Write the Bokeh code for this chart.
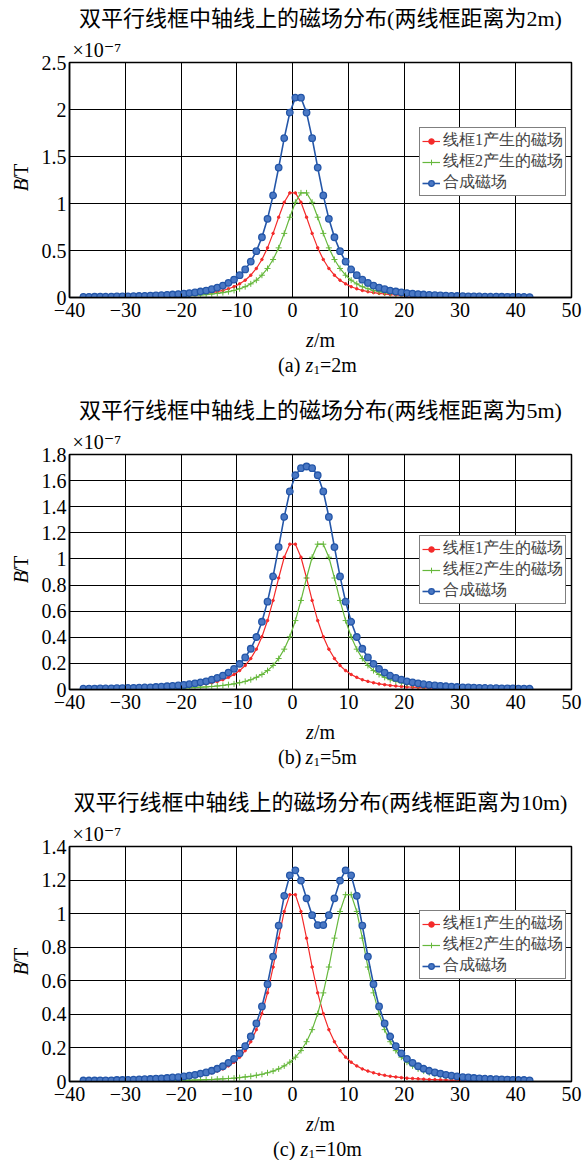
import math
from bokeh.plotting import figure
from bokeh.models import Range1d, FixedTicker, Label, Legend, LegendItem, PrintfTickFormatter
from bokeh.layouts import column, row
from bokeh.core.properties import value
from bokeh.embed import file_html
from bokeh.resources import INLINE

# ---------------- data (B in units of 1e-7 T) ----------------
z = [-37.5, -36.5, -35.5, -34.5, -33.5, -32.5, -31.5, -30.5, -29.5, -28.5,
     -27.5, -26.5, -25.5, -24.5, -23.5, -22.5, -21.5, -20.5, -19.5, -18.5,
     -17.5, -16.5, -15.5, -14.5, -13.5, -12.5, -11.5, -10.5, -9.5, -8.5,
     -7.5, -6.5, -5.5, -4.5, -3.5, -2.5, -1.5, -0.5, 0.5, 1.5,
     2.5, 3.5, 4.5, 5.5, 6.5, 7.5, 8.5, 9.5, 10.5, 11.5,
     12.5, 13.5, 14.5, 15.5, 16.5, 17.5, 18.5, 19.5, 20.5, 21.5,
     22.5, 23.5, 24.5, 25.5, 26.5, 27.5, 28.5, 29.5, 30.5, 31.5,
     32.5, 33.5, 34.5, 35.5, 36.5, 37.5, 38.5, 39.5, 40.5, 41.5, 42.5]

# loop 1 (centre z = 0), same in all three panels
red = [0.004, 0.004, 0.004, 0.005, 0.005, 0.005, 0.006, 0.006, 0.007, 0.008,
       0.009, 0.010, 0.011, 0.012, 0.014, 0.016, 0.018, 0.020, 0.023, 0.027,
       0.031, 0.037, 0.043, 0.052, 0.062, 0.075, 0.093, 0.115, 0.145, 0.184,
       0.237, 0.309, 0.404, 0.528, 0.682, 0.854, 1.013, 1.113,
       1.113, 1.013, 0.854, 0.682, 0.528, 0.404, 0.309, 0.237, 0.184, 0.145,
       0.115, 0.093, 0.075, 0.062, 0.052, 0.043, 0.037, 0.031, 0.027, 0.023,
       0.020, 0.018, 0.016, 0.014, 0.012, 0.011, 0.010, 0.009, 0.008, 0.007,
       0.006, 0.006, 0.005, 0.005, 0.005, 0.004, 0.004, 0.004, 0.003, 0.003,
       0.003, 0.003, 0.002]

# (a) distance 2 m
green_a = [0.003, 0.003, 0.004, 0.004, 0.004, 0.005, 0.005, 0.005, 0.006, 0.006,
           0.007, 0.008, 0.009, 0.010, 0.011, 0.012, 0.014, 0.016, 0.018, 0.020,
           0.023, 0.027, 0.031, 0.037, 0.043, 0.052, 0.062, 0.075, 0.093, 0.115,
           0.145, 0.184, 0.237, 0.309, 0.404, 0.528, 0.682, 0.854, 1.013, 1.113,
           1.113, 1.013, 0.854, 0.682, 0.528, 0.404, 0.309, 0.237, 0.184, 0.145,
           0.115, 0.093, 0.075, 0.062, 0.052, 0.043, 0.037, 0.031, 0.027, 0.023,
           0.020, 0.018, 0.016, 0.014, 0.012, 0.011, 0.010, 0.009, 0.008, 0.007,
           0.006, 0.006, 0.005, 0.005, 0.005, 0.004, 0.004, 0.004, 0.003, 0.003, 0.003]
blue_a = [0.007, 0.007, 0.008, 0.009, 0.009, 0.010, 0.011, 0.011, 0.013, 0.014,
          0.016, 0.018, 0.020, 0.022, 0.025, 0.028, 0.032, 0.036, 0.041, 0.047,
          0.054, 0.064, 0.074, 0.089, 0.105, 0.127, 0.155, 0.190, 0.238, 0.299,
          0.382, 0.493, 0.641, 0.837, 1.086, 1.382, 1.695, 1.967,
          2.126, 2.126,
          1.967, 1.695, 1.382, 1.086, 0.837, 0.641, 0.493, 0.382, 0.299, 0.238,
          0.190, 0.155, 0.127, 0.105, 0.089, 0.074, 0.064, 0.054, 0.047, 0.041,
          0.036, 0.032, 0.028, 0.025, 0.022, 0.020, 0.018, 0.016, 0.014, 0.013,
          0.011, 0.011, 0.010, 0.009, 0.009, 0.008, 0.007, 0.007, 0.006, 0.006, 0.005]

# (b) distance 5 m
green_b = [0.002, 0.003, 0.003, 0.003, 0.003,
           0.004, 0.004, 0.004, 0.005, 0.005, 0.005, 0.006, 0.006, 0.007, 0.008,
           0.009, 0.010, 0.011, 0.012, 0.014, 0.016, 0.018, 0.020, 0.023, 0.027,
           0.031, 0.037, 0.043, 0.052, 0.062, 0.075, 0.093, 0.115, 0.145, 0.184,
           0.237, 0.309, 0.404, 0.528, 0.682, 0.854, 1.013, 1.113,
           1.113, 1.013, 0.854, 0.682, 0.528, 0.404, 0.309, 0.237, 0.184, 0.145,
           0.115, 0.093, 0.075, 0.062, 0.052, 0.043, 0.037, 0.031, 0.027, 0.023,
           0.020, 0.018, 0.016, 0.014, 0.012, 0.011, 0.010, 0.009, 0.008, 0.007,
           0.006, 0.006, 0.005, 0.005, 0.005, 0.004, 0.004, 0.004]
blue_b = [0.006, 0.007, 0.007, 0.008, 0.008, 0.009, 0.010, 0.010, 0.012, 0.013,
          0.014, 0.016, 0.017, 0.019, 0.022, 0.025, 0.028, 0.031, 0.035, 0.041,
          0.047, 0.055, 0.063, 0.075, 0.089, 0.106, 0.130, 0.158, 0.197, 0.246,
          0.312, 0.402, 0.519, 0.673, 0.866, 1.091, 1.322, 1.517, 1.641, 1.695, 1.708,
          1.695, 1.641, 1.517, 1.322, 1.091, 0.866, 0.673, 0.519, 0.402, 0.312,
          0.246, 0.197, 0.158, 0.130, 0.106, 0.089, 0.075, 0.063, 0.055, 0.047,
          0.041, 0.035, 0.031, 0.028, 0.025, 0.022, 0.019, 0.017, 0.016, 0.014,
          0.013, 0.012, 0.010, 0.010, 0.009, 0.008, 0.008, 0.007, 0.007, 0.006]

# (c) distance 10 m
green_c = [0.002, 0.002, 0.002, 0.002, 0.002, 0.002, 0.003, 0.003, 0.003, 0.003,
           0.004, 0.004, 0.004, 0.005, 0.005, 0.005, 0.006, 0.006, 0.007, 0.008,
           0.009, 0.010, 0.011, 0.012, 0.014, 0.016, 0.018, 0.020, 0.023, 0.027,
           0.031, 0.037, 0.043, 0.052, 0.062, 0.075, 0.093, 0.115, 0.145, 0.184,
           0.237, 0.309, 0.404, 0.528, 0.682, 0.854, 1.013, 1.113,
           1.113, 1.013, 0.854, 0.682, 0.528, 0.404, 0.309, 0.237, 0.184, 0.145,
           0.115, 0.093, 0.075, 0.062, 0.052, 0.043, 0.037, 0.031, 0.027, 0.023,
           0.020, 0.018, 0.016, 0.014, 0.012, 0.011, 0.010, 0.009, 0.008, 0.007,
           0.006, 0.006, 0.005]
blue_c = [0.006, 0.006, 0.006, 0.007, 0.007, 0.007, 0.009, 0.009, 0.010, 0.011,
          0.013, 0.014, 0.015, 0.017, 0.019, 0.021, 0.024, 0.026, 0.030, 0.035,
          0.040, 0.047, 0.054, 0.064, 0.076, 0.091, 0.111, 0.135, 0.168, 0.211,
          0.268, 0.346, 0.447, 0.580, 0.744, 0.929, 1.106, 1.228, 1.258, 1.197,
          1.091, 0.991, 0.932,
          0.932, 0.991, 1.091, 1.197, 1.258, 1.228, 1.106, 0.929, 0.744, 0.580,
          0.447, 0.346, 0.268, 0.211, 0.168, 0.135, 0.111, 0.091, 0.076, 0.064,
          0.054, 0.047, 0.040, 0.035, 0.030, 0.026, 0.024, 0.021, 0.019, 0.017,
          0.015, 0.014, 0.013, 0.011, 0.010, 0.009, 0.009, 0.007]

x_ticks = [-40, -30, -20, -10, 0, 10, 20, 30, 40, 50]
titles = ["双平行线框中轴线上的磁场分布(两线框距离为2m)",
          "双平行线框中轴线上的磁场分布(两线框距离为5m)",
          "双平行线框中轴线上的磁场分布(两线框距离为10m)"]
captions = [("(a) ", "=2m"), ("(b) ", "=5m"), ("(c) ", "=10m")]
legend_labels = ["线框1产生的磁场", "线框2产生的磁场", "合成磁场"]
exponent = "\u00d710\u207b\u2077"
y_max = [2.5, 1.8, 1.4]
y_ticks = [[0, 0.5, 1, 1.5, 2, 2.5],
           [0, 0.2, 0.4, 0.6, 0.8, 1.0, 1.2, 1.4, 1.6, 1.8],
           [0, 0.2, 0.4, 0.6, 0.8, 1.0, 1.2, 1.4]]

for arr in (red, green_a, blue_a, green_b, blue_b, green_c, blue_c):
    assert len(arr) == len(z), len(arr)

FONT = "'Liberation Serif', 'DejaVu Serif', 'Noto Sans CJK SC'"
LEG_FONT = "Liberation Serif"
RED = "#f42a2a"
GREEN = "#66b83c"
BLUE = "#2456a8"
BLUE_FILL = "#4a78c4"

W = 582            # total width
LW = 38            # left text strip width
TH = 34            # top text strip height
FW, FH = 502, 235  # frame size
MBL, MBR, MBT, MBB = 31, 11, 28, 30   # main-figure borders
MH = MBT + FH + MBB


def text_fig(width, height):
    f = figure(width=width, height=height, x_range=Range1d(0, width),
               y_range=Range1d(0, height), output_backend="svg",
               toolbar_location=None, min_border=0,
               x_axis_location=None, y_axis_location=None)
    f.grid.visible = False
    f.outline_line_color = None
    f.background_fill_color = "white"
    f.border_fill_color = "white"
    return f


def put(f, x, y_top, txt, size, style="normal", align="left", angle=0.0):
    # y_top: pixels from the strip's top edge
    f.text(x=[x], y=[f.height - y_top], text=[txt], text_font=value(FONT),
           text_font_size=value(size), text_font_style=style, text_align=align,
           text_baseline="middle", angle=angle, text_color="black")


def make_panel(i, green, blue, total_h, legend_vy, cap_y):
    # ---- top strip: title
    top = text_fig(W, TH)
    put(top, LW + MBL + FW / 2, 18, titles[i], "22px", align="center")

    # ---- left strip: B/T
    left = text_fig(LW, MH)
    cy = MBT + FH / 2
    put(left, 20, cy + 15, "B", "20px", style="italic", angle=math.pi / 2)
    put(left, 20, cy + 3, "/T", "20px", angle=math.pi / 2)

    # ---- main plot
    p = figure(width=W - LW, height=MH, x_range=Range1d(-40, 50),
               y_range=Range1d(0, y_max[i]), output_backend="svg",
               toolbar_location=None, min_border_left=MBL, min_border_right=MBR,
               min_border_top=MBT, min_border_bottom=MBB)
    p.background_fill_color = "white"
    p.border_fill_color = "white"
    p.outline_line_color = "black"
    p.outline_line_width = 1.5

    p.xaxis.ticker = FixedTicker(ticks=x_ticks)
    p.xaxis.major_label_overrides = {t: (("\u2212" + str(-t)) if t < 0 else str(t)) for t in x_ticks}
    p.yaxis.ticker = FixedTicker(ticks=y_ticks[i])
    p.yaxis.formatter = PrintfTickFormatter(format="%g")
    for ax in (p.xaxis, p.yaxis):
        ax.major_label_text_font = FONT
        ax.major_label_text_font_size = "20px"
        ax.major_label_text_color = "black"
        ax.axis_line_color = "black"
        ax.axis_line_width = 1.5
        ax.major_tick_in = 4
        ax.major_tick_out = 0
        ax.minor_tick_line_color = None
        ax.major_tick_line_color = "black"
    p.xaxis.major_label_standoff = 5
    p.yaxis.major_label_standoff = 3
    for g in (p.xgrid, p.ygrid):
        g.grid_line_color = "black"
        g.grid_line_width = 1
        g.grid_line_alpha = 1.0
    p.xgrid.ticker = FixedTicker(ticks=x_ticks)
    p.ygrid.ticker = FixedTicker(ticks=y_ticks[i])

    r1 = p.line(z, red, line_color=RED, line_width=1.2)
    r1m = p.scatter(z, red, marker="circle", size=2.5, fill_color=RED, line_color=RED)
    r2 = p.line(z, green, line_color=GREEN, line_width=1.2)
    r2m = p.scatter(z, green, marker="cross", size=6, line_color=GREEN, line_width=1)
    r3 = p.line(z, blue, line_color=BLUE, line_width=1.6)
    r3m = p.scatter(z, blue, marker="circle", size=6.5, fill_color=BLUE_FILL,
                    line_color=BLUE, line_width=1.3)

    leg = Legend(items=[LegendItem(label=legend_labels[0], renderers=[r1, r1m]),
                        LegendItem(label=legend_labels[1], renderers=[r2, r2m]),
                        LegendItem(label=legend_labels[2], renderers=[r3, r3m])],
                 location=(350, legend_vy))
    leg.label_text_font = LEG_FONT
    leg.label_text_font_size = "16px"
    leg.label_height = 14
    leg.glyph_height = 14
    leg.glyph_width = 18
    leg.label_standoff = 3
    leg.spacing = 0
    leg.padding = 2
    leg.margin = 0
    leg.border_line_color = "black"
    leg.border_line_width = 1
    leg.background_fill_alpha = 1.0
    p.add_layout(leg)

    # exponent above the frame (canvas pixels of the main figure)
    p.add_layout(Label(x=MBL + 3, y=MBT - 13, x_units="canvas", y_units="canvas",
                       text=exponent, text_font=FONT, text_font_size="20px",
                       text_align="left", text_baseline="middle",
                       text_color="black"), "above")

    # ---- bottom strip: z/m and caption
    bh = total_h - TH - MH
    bot = text_fig(W, bh)
    xc = LW + MBL
    put(bot, xc + 236.5, 12, "z", "20px", style="italic")
    put(bot, xc + 244.5, 12, "/m", "20px")
    pre, post = captions[i]
    w_pre = 27.5
    w_post = 37.0 if len(post) == 3 else 47.0
    total = w_pre + 7.8 + 6.5 + w_post
    x0 = xc + 248 - total / 2
    put(bot, x0, cap_y, pre, "20px")
    put(bot, x0 + w_pre, cap_y, "z", "20px", style="italic")
    put(bot, x0 + w_pre + 7.8, cap_y + 5, "1", "13px")
    put(bot, x0 + w_pre + 7.8 + 6.5, cap_y, post, "20px")

    return column(top, row(left, p, spacing=0), bot, spacing=0)


pa = make_panel(0, green_a, blue_a, 392, 101, 37)
pb = make_panel(1, green_b, blue_b, 392, 85, 37)
pc = make_panel(2, green_c, blue_c, 376, 102, 37)

layout = column(pa, pb, pc, spacing=0)
open("out.html", "w").write(file_html(layout, INLINE))
